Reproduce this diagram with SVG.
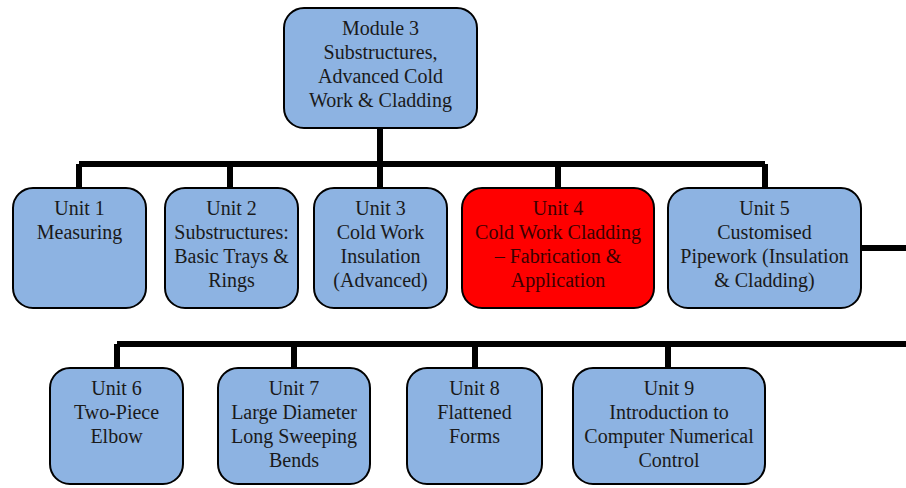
<svg xmlns="http://www.w3.org/2000/svg" width="906" height="488" viewBox="0 0 906 488">
<style>
.box{fill:#8db3e2;stroke:#000;stroke-width:2}
.red{fill:#ff0000;stroke:#000;stroke-width:2}
.t{font-family:"Liberation Serif","Times New Roman",serif;font-size:20px;fill:#1a1a1a;text-anchor:middle}
.tr{fill:#3a0000}
.c{stroke:#000;stroke-width:6;fill:none}
</style>
<g id="connectors">
<path class="c" d="M380 128V188M79 164H765M79 164V188M230 164V188M380 164V188M558 164V188M765 164V188"/>
<path class="c" d="M861 248H906M117 344H906M117 344V368M294 344V368M475 344V368M668 344V368"/>
</g>
<g id="module3">
<rect class="box" x="284" y="8" width="193" height="120" rx="20"/>
<text class="t" x="380.5" y="35">Module 3</text>
<text class="t" x="380.5" y="59">Substructures,</text>
<text class="t" x="380.5" y="83">Advanced Cold</text>
<text class="t" x="380.5" y="107">Work &amp; Cladding</text>
</g>
<g id="unit1">
<rect class="box" x="13" y="188" width="133" height="120" rx="20"/>
<text class="t" x="79.5" y="215">Unit 1</text>
<text class="t" x="79.5" y="239">Measuring</text>
</g>
<g id="unit2">
<rect class="box" x="165" y="188" width="133" height="120" rx="20"/>
<text class="t" x="231.5" y="215">Unit 2</text>
<text class="t" x="231.5" y="239">Substructures:</text>
<text class="t" x="231.5" y="263">Basic Trays &amp;</text>
<text class="t" x="231.5" y="287">Rings</text>
</g>
<g id="unit3">
<rect class="box" x="314" y="188" width="133" height="120" rx="20"/>
<text class="t" x="380.5" y="215">Unit 3</text>
<text class="t" x="380.5" y="239">Cold Work</text>
<text class="t" x="380.5" y="263">Insulation</text>
<text class="t" x="380.5" y="287">(Advanced)</text>
</g>
<g id="unit4">
<rect class="red" x="462" y="188" width="192" height="120" rx="20"/>
<text class="t tr" x="558" y="215">Unit 4</text>
<text class="t tr" x="558" y="239">Cold Work Cladding</text>
<text class="t tr" x="558" y="263">– Fabrication &amp;</text>
<text class="t tr" x="558" y="287">Application</text>
</g>
<g id="unit5">
<rect class="box" x="668" y="188" width="193" height="120" rx="20"/>
<text class="t" x="764.5" y="215">Unit 5</text>
<text class="t" x="764.5" y="239">Customised</text>
<text class="t" x="764.5" y="263">Pipework (Insulation</text>
<text class="t" x="764.5" y="287">&amp; Cladding)</text>
</g>
<g id="unit6">
<rect class="box" x="50" y="368" width="133" height="116" rx="20"/>
<text class="t" x="116.5" y="395">Unit 6</text>
<text class="t" x="116.5" y="419">Two-Piece</text>
<text class="t" x="116.5" y="443">Elbow</text>
</g>
<g id="unit7">
<rect class="box" x="218" y="368" width="152" height="116" rx="20"/>
<text class="t" x="294" y="395">Unit 7</text>
<text class="t" x="294" y="419">Large Diameter</text>
<text class="t" x="294" y="443">Long Sweeping</text>
<text class="t" x="294" y="467">Bends</text>
</g>
<g id="unit8">
<rect class="box" x="407" y="368" width="135" height="116" rx="20"/>
<text class="t" x="474.5" y="395">Unit 8</text>
<text class="t" x="474.5" y="419">Flattened</text>
<text class="t" x="474.5" y="443">Forms</text>
</g>
<g id="unit9">
<rect class="box" x="573" y="368" width="192" height="116" rx="20"/>
<text class="t" x="669" y="395">Unit 9</text>
<text class="t" x="669" y="419">Introduction to</text>
<text class="t" x="669" y="443">Computer Numerical</text>
<text class="t" x="669" y="467">Control</text>
</g>
</svg>
